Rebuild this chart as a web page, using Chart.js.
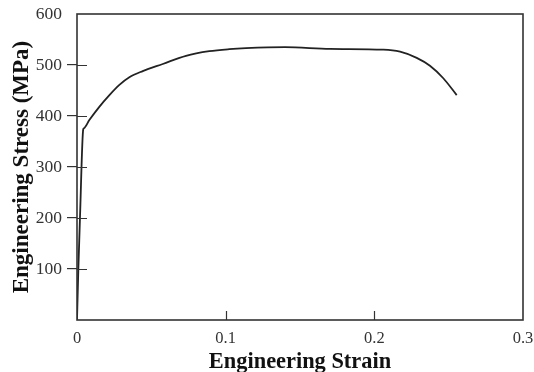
<!DOCTYPE html>
<html>
<head>
<meta charset="utf-8">
<script src="https://cdn.jsdelivr.net/npm/chart.js@4/dist/chart.umd.min.js"></script>
<style>
  html, body { margin: 0; padding: 0; background: #fff; }
  #wrap { width: 534px; height: 372px; }
</style>
</head>
<body>
<div id="wrap"><canvas id="grafica"></canvas></div>
<script>
// datos
const deformacion = [0, 0.0009, 0.002, 0.0042, 0.0047, 0.0083, 0.015, 0.0218, 0.0285, 0.0352, 0.0442, 0.0577, 0.0733, 0.089, 0.1024, 0.1137, 0.14, 0.1702, 0.206, 0.2173, 0.2285, 0.2374, 0.2464, 0.2554];
const esfuerzo = [0, 100, 200, 374, 376, 392, 418, 441, 461, 476, 488, 502, 518, 527, 531, 533, 535, 531.5, 530, 526, 514, 498.5, 474, 441];
const ticksX = [0, 0.1, 0.2, 0.3];
const ticksY = [100, 200, 300, 400, 500, 600];

const FUENTE = "'Liberation Serif', 'Times New Roman', serif";
const COLOR = "#333";

// marcas hacia adentro y el marco
const marcasInternas = {
  id: "marcasInternas",
  afterDraw(chart) {
    const { ctx, chartArea: a, scales } = chart;
    ctx.save();
    ctx.strokeStyle = COLOR;
    ctx.lineWidth = 1.2;
    ctx.beginPath();
    ticksY.slice(0, -1).forEach((v) => {
      const y = Math.round(scales.y.getPixelForValue(v)) + 0.5;
      ctx.moveTo(a.left, y);
      ctx.lineTo(a.left + 10, y);
    });
    ticksX.slice(1, -1).forEach((v) => {
      const x = Math.round(scales.x.getPixelForValue(v)) + 0.5;
      ctx.moveTo(x, a.bottom);
      ctx.lineTo(x, a.bottom - 9);
    });
    ctx.stroke();
    ctx.lineWidth = 1.6;
    ctx.strokeRect(a.left, a.top, a.right - a.left, a.bottom - a.top);
    ctx.restore();
  }
};

new Chart(document.getElementById("grafica"), {
  type: "scatter",
  data: {
    datasets: [{
      data: deformacion.map((x, i) => ({ x, y: esfuerzo[i] })),
      showLine: true,
      borderColor: "#222",
      borderWidth: 1.8,
      pointRadius: 0,
      cubicInterpolationMode: "monotone",
      fill: false
    }]
  },
  options: {
    responsive: true,
    maintainAspectRatio: false,
    animation: false,
    layout: { padding: { left: 8, right: 11, top: 14, bottom: 0 } },
    plugins: {
      legend: { display: false },
      tooltip: { enabled: false }
    },
    scales: {
      x: {
        type: "linear",
        min: 0,
        max: 0.3,
        afterBuildTicks: (s) => { s.ticks = ticksX.map((v) => ({ value: v })); },
        afterFit: (s) => { s.height = 52; s.paddingLeft = 0; s.paddingRight = 0; },
        ticks: {
          color: COLOR,
          font: { family: FUENTE, size: 16.5 },
          padding: 9,
          maxRotation: 0,
          callback: (v) => String(v)
        },
        grid: { display: true, drawOnChartArea: false, drawTicks: false, color: COLOR },
        border: { display: false },
        title: {
          display: true,
          text: "Engineering Strain",
          color: "#111",
          font: { family: FUENTE, size: 22.4, weight: "bold" },
          padding: { top: 0, bottom: -4 }
        }
      },
      y: {
        min: 0,
        max: 600,
        afterBuildTicks: (s) => { s.ticks = ticksY.map((v) => ({ value: v })); },
        afterFit: (s) => { s.width = 69; s.paddingTop = 0; s.paddingBottom = 0; },
        ticks: {
          color: COLOR,
          font: { family: FUENTE, size: 17.5 },
          padding: 5
        },
        grid: {
          display: true,
          drawOnChartArea: false,
          tickLength: 10,
          color: (c) => (c.tick && c.tick.value === 600 ? "rgba(0,0,0,0)" : COLOR),
          lineWidth: 1.2
        },
        border: { display: false },
        title: {
          display: true,
          text: "Engineering Stress (MPa)",
          color: "#111",
          font: { family: FUENTE, size: 23, weight: "bold" },
          padding: { top: 0, bottom: 0 }
        }
      }
    }
  },
  plugins: [marcasInternas]
});
</script>
</body>
</html>
